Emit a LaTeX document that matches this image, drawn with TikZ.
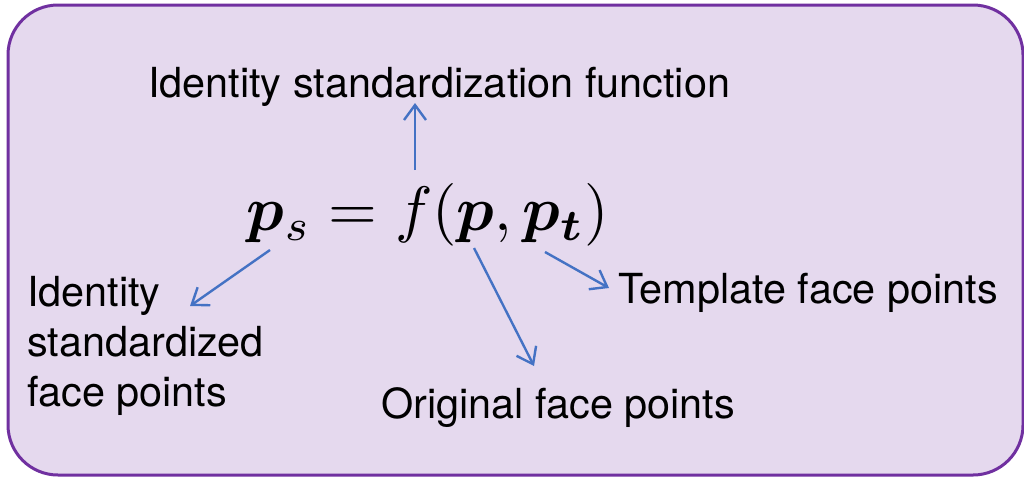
\documentclass[tikz,border=0pt]{standalone}
\usepackage{amsmath}
\usepackage{bm}
\usepackage{graphicx}
\usepackage{fontspec}
\setmainfont{TeX Gyre Heros}
\usetikzlibrary{arrows.meta}
\definecolor{boxfill}{RGB}{229,217,238}
\definecolor{boxline}{RGB}{112,48,160}
\definecolor{arrblue}{RGB}{68,114,196}
\begin{document}
\begin{tikzpicture}[x=1pt,y=-1pt,
  lbl/.style={inner sep=0pt, font=\fontsize{41.4}{50}\selectfont, text=black},
  conn/.style={draw=arrblue, line width=2.4pt, -{Straight Barb[length=15pt,width=22pt]}}]
\useasboundingbox (0,0) rectangle (1024,477);
\draw[boxline, fill=boxfill, line width=3pt, rounded corners=50pt] (8,5) rectangle (1023,475);
\node[inner sep=0pt] (eq) at (428,215) {\resizebox{362pt}{!}{$\bm{p}_s = f(\bm{p},\bm{p}_{\bm{t}})$}};
\node[lbl, anchor=base west] (fn) at (148,97) {Identity standardization function};
\node[lbl, anchor=north west, align=left] (isp) at (27,276) {Identity\\standardized\\face points};
\node[lbl, anchor=base west] (tfp) at (618,303) {Template face points};
\node[lbl, anchor=base west] (ofp) at (381,418) {Original face points};
\coordinate (s1) at (415,170); \coordinate (e1) at (415,103);
\coordinate (s2) at (270,250); \coordinate (e2) at (190,306);
\coordinate (s3) at (474,248); \coordinate (e3) at (534,366);
\coordinate (s4) at (545,252); \coordinate (e4) at (609,288);
\draw[conn] (s1) -- (e1);
\draw[conn] (s2) -- (e2);
\draw[conn] (s3) -- (e3);
\draw[conn] (s4) -- (e4);
\end{tikzpicture}
\end{document}
